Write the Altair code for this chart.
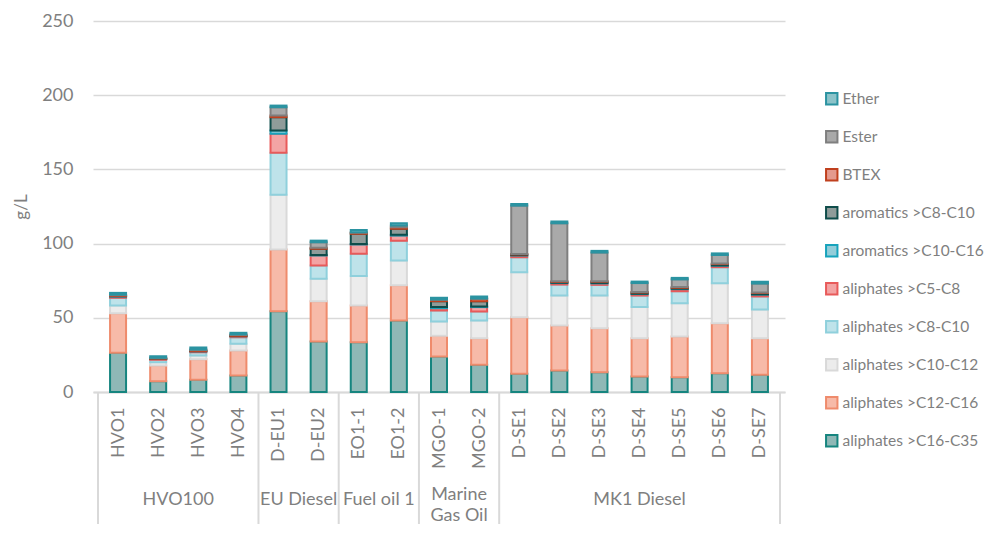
import altair as alt
import pandas as pd

samples = ["HVO1", "HVO2", "HVO3", "HVO4", "D-EU1", "D-EU2", "EO1-1", "EO1-2",
           "MGO-1", "MGO-2", "D-SE1", "D-SE2", "D-SE3", "D-SE4", "D-SE5", "D-SE6", "D-SE7"]
groups = ["HVO100"] * 4 + ["EU Diesel"] * 2 + ["Fuel oil 1"] * 2 + ["Marine\nGas Oil"] * 2 + ["MK1 Diesel"] * 7

# stacking order (bottom -> top)
series = ["aliphates >C16-C35", "aliphates >C12-C16", "aliphates >C10-C12", "aliphates >C8-C10",
          "aliphates >C5-C8", "aromatics >C10-C16", "aromatics >C8-C10", "BTEX", "Ester", "Ether"]

ali_c16_c35 = [26.4, 7.3, 8.2, 11.1, 54.4, 34.0, 33.6, 48.2, 23.9, 18.3, 12.3, 14.5, 13.3, 10.4, 10.0, 12.7, 11.6]
ali_c12_c16 = [26.7, 10.6, 13.9, 16.9, 41.6, 27.2, 24.7, 23.8, 14.0, 18.0, 38.1, 30.3, 29.7, 25.9, 27.4, 33.7, 24.7]
ali_c10_c12 = [5.2, 2.2, 2.5, 4.5, 37.0, 15.1, 19.8, 16.6, 9.6, 11.9, 30.3, 20.2, 22.0, 20.9, 22.4, 26.9, 19.3]
ali_c8_c10 = [5.2, 1.6, 2.2, 4.4, 28.2, 8.9, 15.0, 13.4, 7.4, 6.0, 10.1, 7.4, 7.2, 7.8, 8.1, 10.8, 8.8]
ali_c5_c8 = [0.8, 0.5, 0.6, 0.6, 12.8, 6.8, 6.3, 3.4, 1.6, 3.0, 1.2, 1.0, 1.0, 1.0, 1.4, 1.0, 1.2]
aro_c10_c16 = [0.2, 0.1, 0.1, 0.2, 2.2, 0.4, 0.4, 0.6, 0.7, 0.4, 0.2, 0.2, 0.3, 0.2, 0.3, 0.2, 0.2]
aro_c8_c10 = [0.2, 0.1, 0.1, 0.1, 9.0, 4.1, 6.8, 4.0, 4.0, 3.6, 0.5, 0.6, 0.8, 0.8, 0.6, 0.9, 0.9]
btex = [0.5, 0.4, 0.6, 0.6, 1.1, 0.7, 0.7, 1.0, 0.9, 1.6, 0.3, 0.4, 0.4, 0.4, 0.5, 0.4, 0.4]
ester = [0.4, 0.3, 0.5, 0.5, 5.6, 3.7, 0.3, 1.2, 0.3, 0.2, 32.6, 39.1, 19.3, 6.0, 5.2, 5.7, 6.0]
ether = [1.2, 1.0, 1.3, 1.0, 1.1, 1.1, 1.5, 1.5, 1.1, 1.4, 1.1, 1.2, 1.1, 1.0, 1.0, 1.1, 1.2]

values = [ali_c16_c35, ali_c12_c16, ali_c10_c12, ali_c8_c10, ali_c5_c8,
          aro_c10_c16, aro_c8_c10, btex, ester, ether]

fills = ["#8fb8b6", "#f7baa8", "#ececec", "#bee3ea", "#f3a4a4",
         "#93cdd9", "#8f9c9a", "#e49a8e", "#a9a9a9", "#8cc3c9"]
strokes = ["#16857f", "#ef8b6c", "#d9d9d9", "#8fd0dc", "#e85a5a",
           "#17a3bc", "#0f4d4b", "#c0401e", "#7f7f7f", "#2b93a1"]

rows = []
for si, (s, vals) in enumerate(zip(series, values)):
    for i, (smp, v) in enumerate(zip(samples, vals)):
        rows.append({"sample": smp, "idx": i, "series": s, "order": si, "value": v})
df = pd.DataFrame(rows)

legend_order = series[::-1]
fill_range = fills[::-1]
stroke_range = strokes[::-1]

group_names = []
for g in groups:
    if g not in group_names:
        group_names.append(g)
gdf = pd.DataFrame({
    "group": group_names,
    "center": [sum(i for i, gg in enumerate(groups) if gg == g) / groups.count(g) for g in group_names],
})
boundaries = [-0.5] + [i + 0.5 for i in range(len(groups) - 1) if groups[i] != groups[i + 1]] + [len(groups) - 0.5]
bdf = pd.DataFrame({"b": boundaries})

W, H = 692, 371
GREY = "#7f7f7f"
FONT = "Lato"
xscale = alt.Scale(domain=[-0.5, len(samples) - 0.5], nice=False, zero=False)
label_expr = "[" + ",".join("'" + s + "'" for s in samples) + "][datum.value]"

bars = alt.Chart(df).mark_bar(size=16, strokeWidth=2).encode(
    x=alt.X("idx:Q", scale=xscale,
            axis=alt.Axis(values=list(range(len(samples))), labelExpr=label_expr, labelAngle=270,
                          labelPadding=15, labelFontSize=18, labelColor=GREY, labelFont=FONT,
                          ticks=False, grid=False, domainColor="#d9d9d9", domainWidth=2, title=None,
                          labelOverlap=False)),
    y=alt.Y("value:Q", stack="zero", scale=alt.Scale(domain=[0, 250], nice=False),
            axis=alt.Axis(values=[0, 50, 100, 150, 200, 250], title="g/L", titleFontSize=17,
                          titleFontWeight="normal", titleColor=GREY, titleFont=FONT, titlePadding=11,
                          labelFontSize=18, labelColor=GREY, labelFont=FONT, labelPadding=20,
                          ticks=False, domain=False, gridColor="#d9d9d9", gridWidth=1.5)),
    fill=alt.Fill("series:N", scale=alt.Scale(domain=legend_order, range=fill_range),
                  legend=alt.Legend(title=None)),
    stroke=alt.Stroke("series:N", scale=alt.Scale(domain=legend_order, range=stroke_range),
                      legend=alt.Legend(title=None)),
    order=alt.Order("order:Q", sort="ascending"),
)

seps = alt.Chart(bdf).mark_rule(color="#d9d9d9", strokeWidth=2).encode(
    x=alt.X("b:Q", scale=xscale),
    y=alt.value(H),
    y2=alt.value(H + 160),
)

single = "indexof(datum.group, '\\n') < 0"
glabels = alt.Chart(gdf).transform_filter(single).mark_text(
    fontSize=18, font=FONT, color=GREY, baseline="alphabetic").encode(
    x=alt.X("center:Q", scale=xscale),
    y=alt.value(H + 113),
    text="group:N",
)
glabels2 = alt.Chart(gdf).transform_filter("!(" + single + ")").mark_text(
    fontSize=18, font=FONT, color=GREY, baseline="alphabetic", lineBreak="\n", lineHeight=21).encode(
    x=alt.X("center:Q", scale=xscale),
    y=alt.value(H + 108),
    text="group:N",
)

chart = alt.layer(bars, seps, glabels, glabels2).properties(
    width=W, height=H,
    autosize=alt.AutoSizeParams(type="none"),
    padding={"left": 85, "top": 13, "right": 202, "bottom": 132},
).configure_view(stroke=None).configure_legend(
    orient="none", legendX=731, legendY=70, symbolType="square", symbolSize=130,
    symbolStrokeWidth=2, labelFontSize=15.5, labelFont=FONT, labelColor=GREY,
    rowPadding=18, labelOffset=3, symbolOpacity=1, labelLimit=400,
)

chart.save("out.html", embed_options={"renderer": "svg", "actions": False})
